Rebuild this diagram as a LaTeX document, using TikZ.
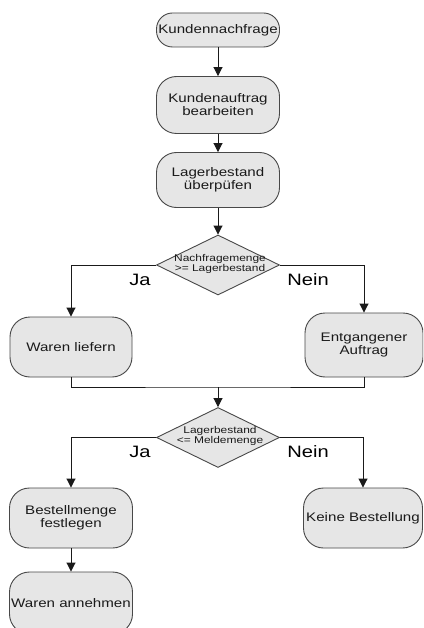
\documentclass[tikz,border=0pt]{standalone}
\usepackage{fontspec}
\setmainfont{Liberation Sans}[FakeStretch=1.22]
\usetikzlibrary{shapes.geometric,arrows.meta}
\definecolor{boxfill}{HTML}{E6E6E6}
\definecolor{ink}{HTML}{1A1A1A}
\begin{document}
\begin{tikzpicture}[x=1pt,y=-1pt,
  proc/.style={draw=ink!80, fill=boxfill, line width=0.9pt, rectangle, rounded corners=20pt,
    inner sep=0pt, align=center, text=ink, font=\fontsize{12.4}{13}\selectfont},
  dia/.style={draw=ink!80, fill=boxfill, line width=0.9pt, diamond, inner sep=0pt,
    minimum width=123pt, minimum height=60pt},
  diatext/.style={align=center, inner sep=0pt, text=ink, font=\fontsize{9.8}{10}\selectfont},
  lbl/.style={inner sep=0pt, text=black, font=\fontsize{16.5}{16.5}\selectfont},
  conn/.style={draw=ink, line width=0.9pt},
  arr/.style={conn, -{Triangle[width=9pt,length=9pt]}}
]
\useasboundingbox (0,0) rectangle (423,628);
\clip (0,0) rectangle (423,628);
\fill[white] (0,0) rectangle (423,628);

\node[proc, minimum width=123pt, minimum height=34pt, rounded corners=16pt] (n1) at (218,30) {Kundennachfrage};
\node[proc, minimum width=123pt, minimum height=57pt] (n2) at (218,105) {Kundenauftrag\\bearbeiten};
\node[proc, minimum width=123pt, minimum height=55pt] (n3) at (218,180) {Lagerbestand\\überpüfen};
\node[dia] (d1) at (218,265) {};
\node[diatext] (t1) at (220,264) {Nachfragemenge\\>= Lagerbestand};
\node[proc, minimum width=122pt, minimum height=60pt] (n4) at (71,347) {Waren liefern};
\node[proc, minimum width=118pt, minimum height=64pt] (n5) at (364,345) {Entgangener\\Auftrag};
\coordinate (m) at (218,387);
\node[dia] (d2) at (218,437.5) {};
\node[diatext] (t2) at (220,436) {Lagerbestand\\<= Meldemenge};
\node[proc, minimum width=123pt, minimum height=60pt] (n6) at (71,518) {Bestellmenge\\festlegen};
\node[proc, minimum width=119pt, minimum height=60pt] (n7) at (363,518) {Keine Bestellung};
\node[proc, minimum width=123pt, minimum height=62pt] (n8) at (71,603) {Waren annehmen};

\node[lbl] (ja1) at (140,280) {Ja};
\node[lbl] (nein1) at (308,280) {Nein};
\node[lbl] (ja2) at (140,452) {Ja};
\node[lbl] (nein2) at (308,452) {Nein};

\draw[arr] (n1.south) -- (n2.north);
\draw[arr] (n2.south) -- (n3.north);
\draw[arr] (n3.south) -- (d1.north);
\draw[arr] (d1.west) -| (n4.north);
\draw[arr] (d1.east) -| (n5.north);
\draw[conn] (n4.south) |- (m) -| (n5.south);
\draw[arr] (m) -- (d2.north);
\draw[arr] (d2.west) -| (n6.north);
\draw[arr] (d2.east) -| (n7.north);
\draw[arr] (n6.south) -- (n8.north);
\end{tikzpicture}
\end{document}
